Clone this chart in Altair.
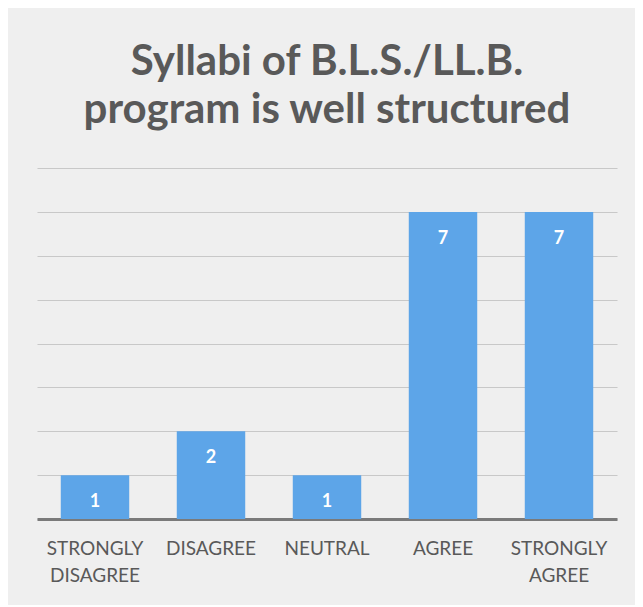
import altair as alt
import pandas as pd

categories = ["STRONGLY DISAGREE", "DISAGREE", "NEUTRAL", "AGREE", "STRONGLY AGREE"]
counts = [1, 2, 1, 7, 7]
y_ticks = [0, 1, 2, 3, 4, 5, 6, 7, 8]

df = pd.DataFrame({"category": categories, "count": counts})

x = alt.X("category:N", sort=categories, title=None,
          scale=alt.Scale(paddingInner=0.41, paddingOuter=0.205),
          axis=alt.Axis(labelExpr="split(datum.label, ' ')", labelAngle=0,
                        labelFont="Lato", labelFontSize=19, labelColor="#595959",
                        labelPadding=20, labelLineHeight=27, ticks=False,
                        domain=True, domainColor="#7a7a7a", domainWidth=3))
y = alt.Y("count:Q", title=None,
          scale=alt.Scale(domain=[0, 8], nice=False),
          axis=alt.Axis(values=y_ticks, labels=False, ticks=False, domain=False,
                        grid=True, gridColor="#c8c8c8", gridWidth=1.2))

bars = alt.Chart(df).mark_bar(color="#5DA5E8").encode(x=x, y=y)
text = alt.Chart(df).mark_text(color="white", font="Lato", fontWeight="bold",
                               fontSize=18, baseline="middle", dy=27).encode(
    x=alt.X("category:N", sort=categories), y="count:Q", text="count:Q")

chart = (bars + text).properties(
    width=580, height=351,
    padding={"left": 29, "top": 33, "right": 18, "bottom": 20},
    background="#efefef",
    title=alt.TitleParams(["Syllabi of B.L.S./LL.B.", "program is well structured"],
                          font="Lato", fontSize=42, fontWeight="bold",
                          color="#595959", anchor="middle", lineHeight=48,
                          offset=36),
).configure_view(stroke=None)

chart.save("out.html", embed_options={"renderer": "svg", "actions": False})
